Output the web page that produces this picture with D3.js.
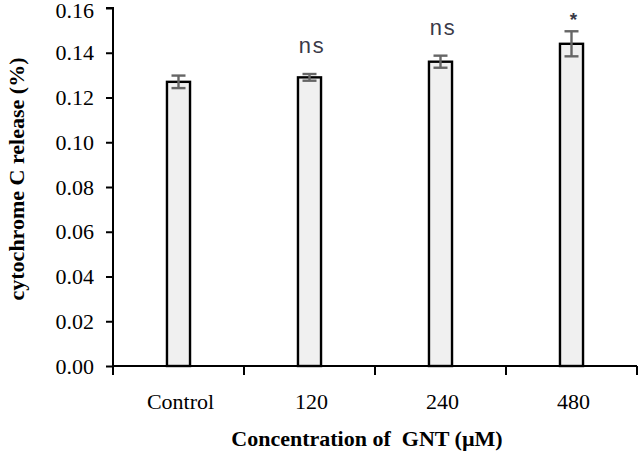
<!DOCTYPE html>
<html>
<head>
<meta charset="utf-8">
<script src="https://cdn.jsdelivr.net/npm/d3@7/dist/d3.min.js"></script>
<style>
  html, body { margin: 0; padding: 0; background: #fff; }
  svg { display: block; }
</style>
</head>
<body>
<svg id="chart" width="639" height="453"></svg>
<script>
const categories = ["Control", "120", "240", "480"];
const values = [0.127, 0.129, 0.136, 0.144];
const errors = [0.0028, 0.0015, 0.0027, 0.0056];
const significance = ["", "ns", "ns", "*"];
const yTicks = [0, 0.02, 0.04, 0.06, 0.08, 0.10, 0.12, 0.14, 0.16];

(function () {
const svg = d3.select("#chart");
const mLeft = 113, mRight = 637, mTop = 8, mBottom = 366;

const x = d3.scaleBand().domain(categories).range([mLeft, mRight]).paddingInner(0.824).paddingOuter(0.412);
const y = d3.scaleLinear().domain([0, 0.16]).range([mBottom, mTop]);

const serif = "'Liberation Serif', 'Times New Roman', serif";

// Y axis
const yAxis = d3.axisLeft(y).tickValues(yTicks).tickFormat(d3.format(".2f")).tickSize(7).tickPadding(12);
const gy = svg.append("g").attr("transform", `translate(${mLeft},0)`).call(yAxis);
gy.attr("font-family", serif);
gy.select(".domain").attr("stroke", "#000").attr("stroke-width", 2).attr("d", `M-7,${mTop}H0V${mBottom}`);
gy.selectAll(".tick line").attr("stroke", "#000").attr("stroke-width", 2);
gy.selectAll(".tick text").attr("font-family", serif).attr("font-size", 22).attr("fill", "#000")
  .attr("dy", (d, i) => i === yTicks.length - 1 ? "0.42em" : "0.32em");

// X axis (ticks on category boundaries)
const step = x.step();
const boundaries = d3.range(categories.length + 1).map(i => mLeft + i * step);
svg.append("line").attr("x1", mLeft).attr("x2", mRight).attr("y1", mBottom).attr("y2", mBottom)
  .attr("stroke", "#000").attr("stroke-width", 2);
svg.selectAll(".xtick").data(boundaries).enter().append("line")
  .attr("x1", d => d).attr("x2", d => d).attr("y1", mBottom).attr("y2", mBottom + 9)
  .attr("stroke", "#000").attr("stroke-width", 2);
svg.selectAll(".xlab").data(categories).enter().append("text")
  .attr("x", d => x(d) + x.bandwidth() / 2 + 2).attr("y", 409)
  .attr("text-anchor", "middle").attr("font-family", serif).attr("font-size", 22).attr("fill", "#000")
  .text(d => d);

// Bars
svg.selectAll(".bar").data(values).enter().append("rect")
  .attr("x", (d, i) => x(categories[i]))
  .attr("y", d => y(d))
  .attr("width", x.bandwidth())
  .attr("height", d => mBottom - y(d))
  .attr("fill", "#f0f0f0").attr("stroke", "#000").attr("stroke-width", 2.4);

// Error bars
const eb = svg.append("g").attr("stroke", "#666").attr("stroke-width", 2.4);
values.forEach((v, i) => {
  const cx = x(categories[i]) + x.bandwidth() / 2;
  const y1 = y(v + errors[i]), y2 = y(v - errors[i]);
  eb.append("line").attr("x1", cx).attr("x2", cx).attr("y1", y1).attr("y2", y2);
  eb.append("line").attr("x1", cx - 7).attr("x2", cx + 7).attr("y1", y1).attr("y2", y1);
  eb.append("line").attr("x1", cx - 7).attr("x2", cx + 7).attr("y1", y2).attr("y2", y2);
});

// Significance labels
svg.selectAll(".sig").data(significance).enter().append("text")
  .attr("x", (d, i) => x(categories[i]) + x.bandwidth() / 2 + 2)
  .attr("y", (d, i) => y(values[i] + errors[i]) - (d === "*" ? 5 : 21))
  .attr("text-anchor", "middle")
  .attr("font-family", "'Liberation Mono', 'Courier New', monospace")
  .attr("font-size", d => d === "*" ? 19 : 22)
  .attr("font-weight", d => d === "*" ? "bold" : "normal")
  .attr("fill", "#3a3a48")
  .text(d => d);

// Axis titles
svg.append("text")
  .attr("transform", `translate(24,${(mTop + mBottom) / 2 - 8}) rotate(-90)`)
  .attr("text-anchor", "middle").attr("font-family", serif).attr("font-weight", "bold")
  .attr("font-size", 22).attr("fill", "#000")
  .text("cytochrome C release (%)");
svg.append("text")
  .attr("x", 367).attr("y", 446)
  .attr("text-anchor", "middle").attr("font-family", serif).attr("font-weight", "bold")
  .attr("font-size", 22).attr("fill", "#000")
  .style("white-space", "pre")
  .text("Concentration of  GNT (\u00b5M)");
})();
</script>
</body>
</html>
